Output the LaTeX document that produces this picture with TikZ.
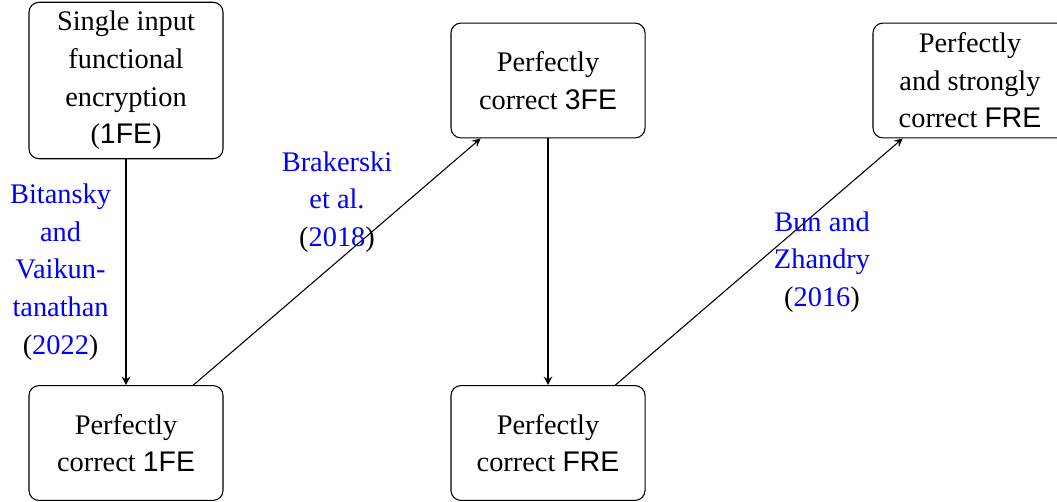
\documentclass[tikz,border=0pt]{standalone}
\usepackage{fontspec}
\setmainfont{Liberation Serif}
\setsansfont{Liberation Sans}
\usepackage{tikz}

\newcommand{\citeref}[1]{\textcolor{blue}{#1}}

\begin{document}
\begin{tikzpicture}[x=0.37pt, y=-0.37pt,
        box/.style={draw, rounded corners=3.7pt, align=center,
            minimum width=71.8pt, minimum height=42.5pt,
            font=\fontsize{10.5}{13.9}\selectfont},
        reflabel/.style={align=center, font=\fontsize{10.5}{13.9}\selectfont}]
    \useasboundingbox (0,0) rectangle (1057,502);

    \node[box] (single) at (126,80.5) {Single input\\functional\\encryption\\(\textsf{1FE})};
    \node[box] (pc1fe) at (126,443) {Perfectly\\correct \textsf{1FE}};
    \node[box] (pc3fe) at (548,80.5) {Perfectly\\correct \textsf{3FE}};
    \node[box] (pcfre) at (548,443) {Perfectly\\correct \textsf{FRE}};
    \node[box] (psfre) at (970,80.5) {Perfectly\\and strongly\\correct \textsf{FRE}};

    \draw[-stealth] (single) -- node[reflabel, left, xshift=-2pt] (bv) {\citeref{Bitansky}\\\citeref{and}\\\citeref{Vaikun-}\\\citeref{tanathan}\\(\citeref{2022})} (pc1fe);
    \draw[-stealth] (pc1fe) -- node[reflabel, above] (bgj) {\citeref{Brakerski}\\\citeref{et al.}\\(\citeref{2018})} (pc3fe);
    \draw[-stealth] (pc3fe) -- (pcfre);
    \draw[-stealth] (pcfre) -- node[reflabel, right, xshift=2pt] (bz) {\citeref{Bun and}\\\citeref{Zhandry}\\(\citeref{2016})} (psfre);
\end{tikzpicture}
\end{document}
